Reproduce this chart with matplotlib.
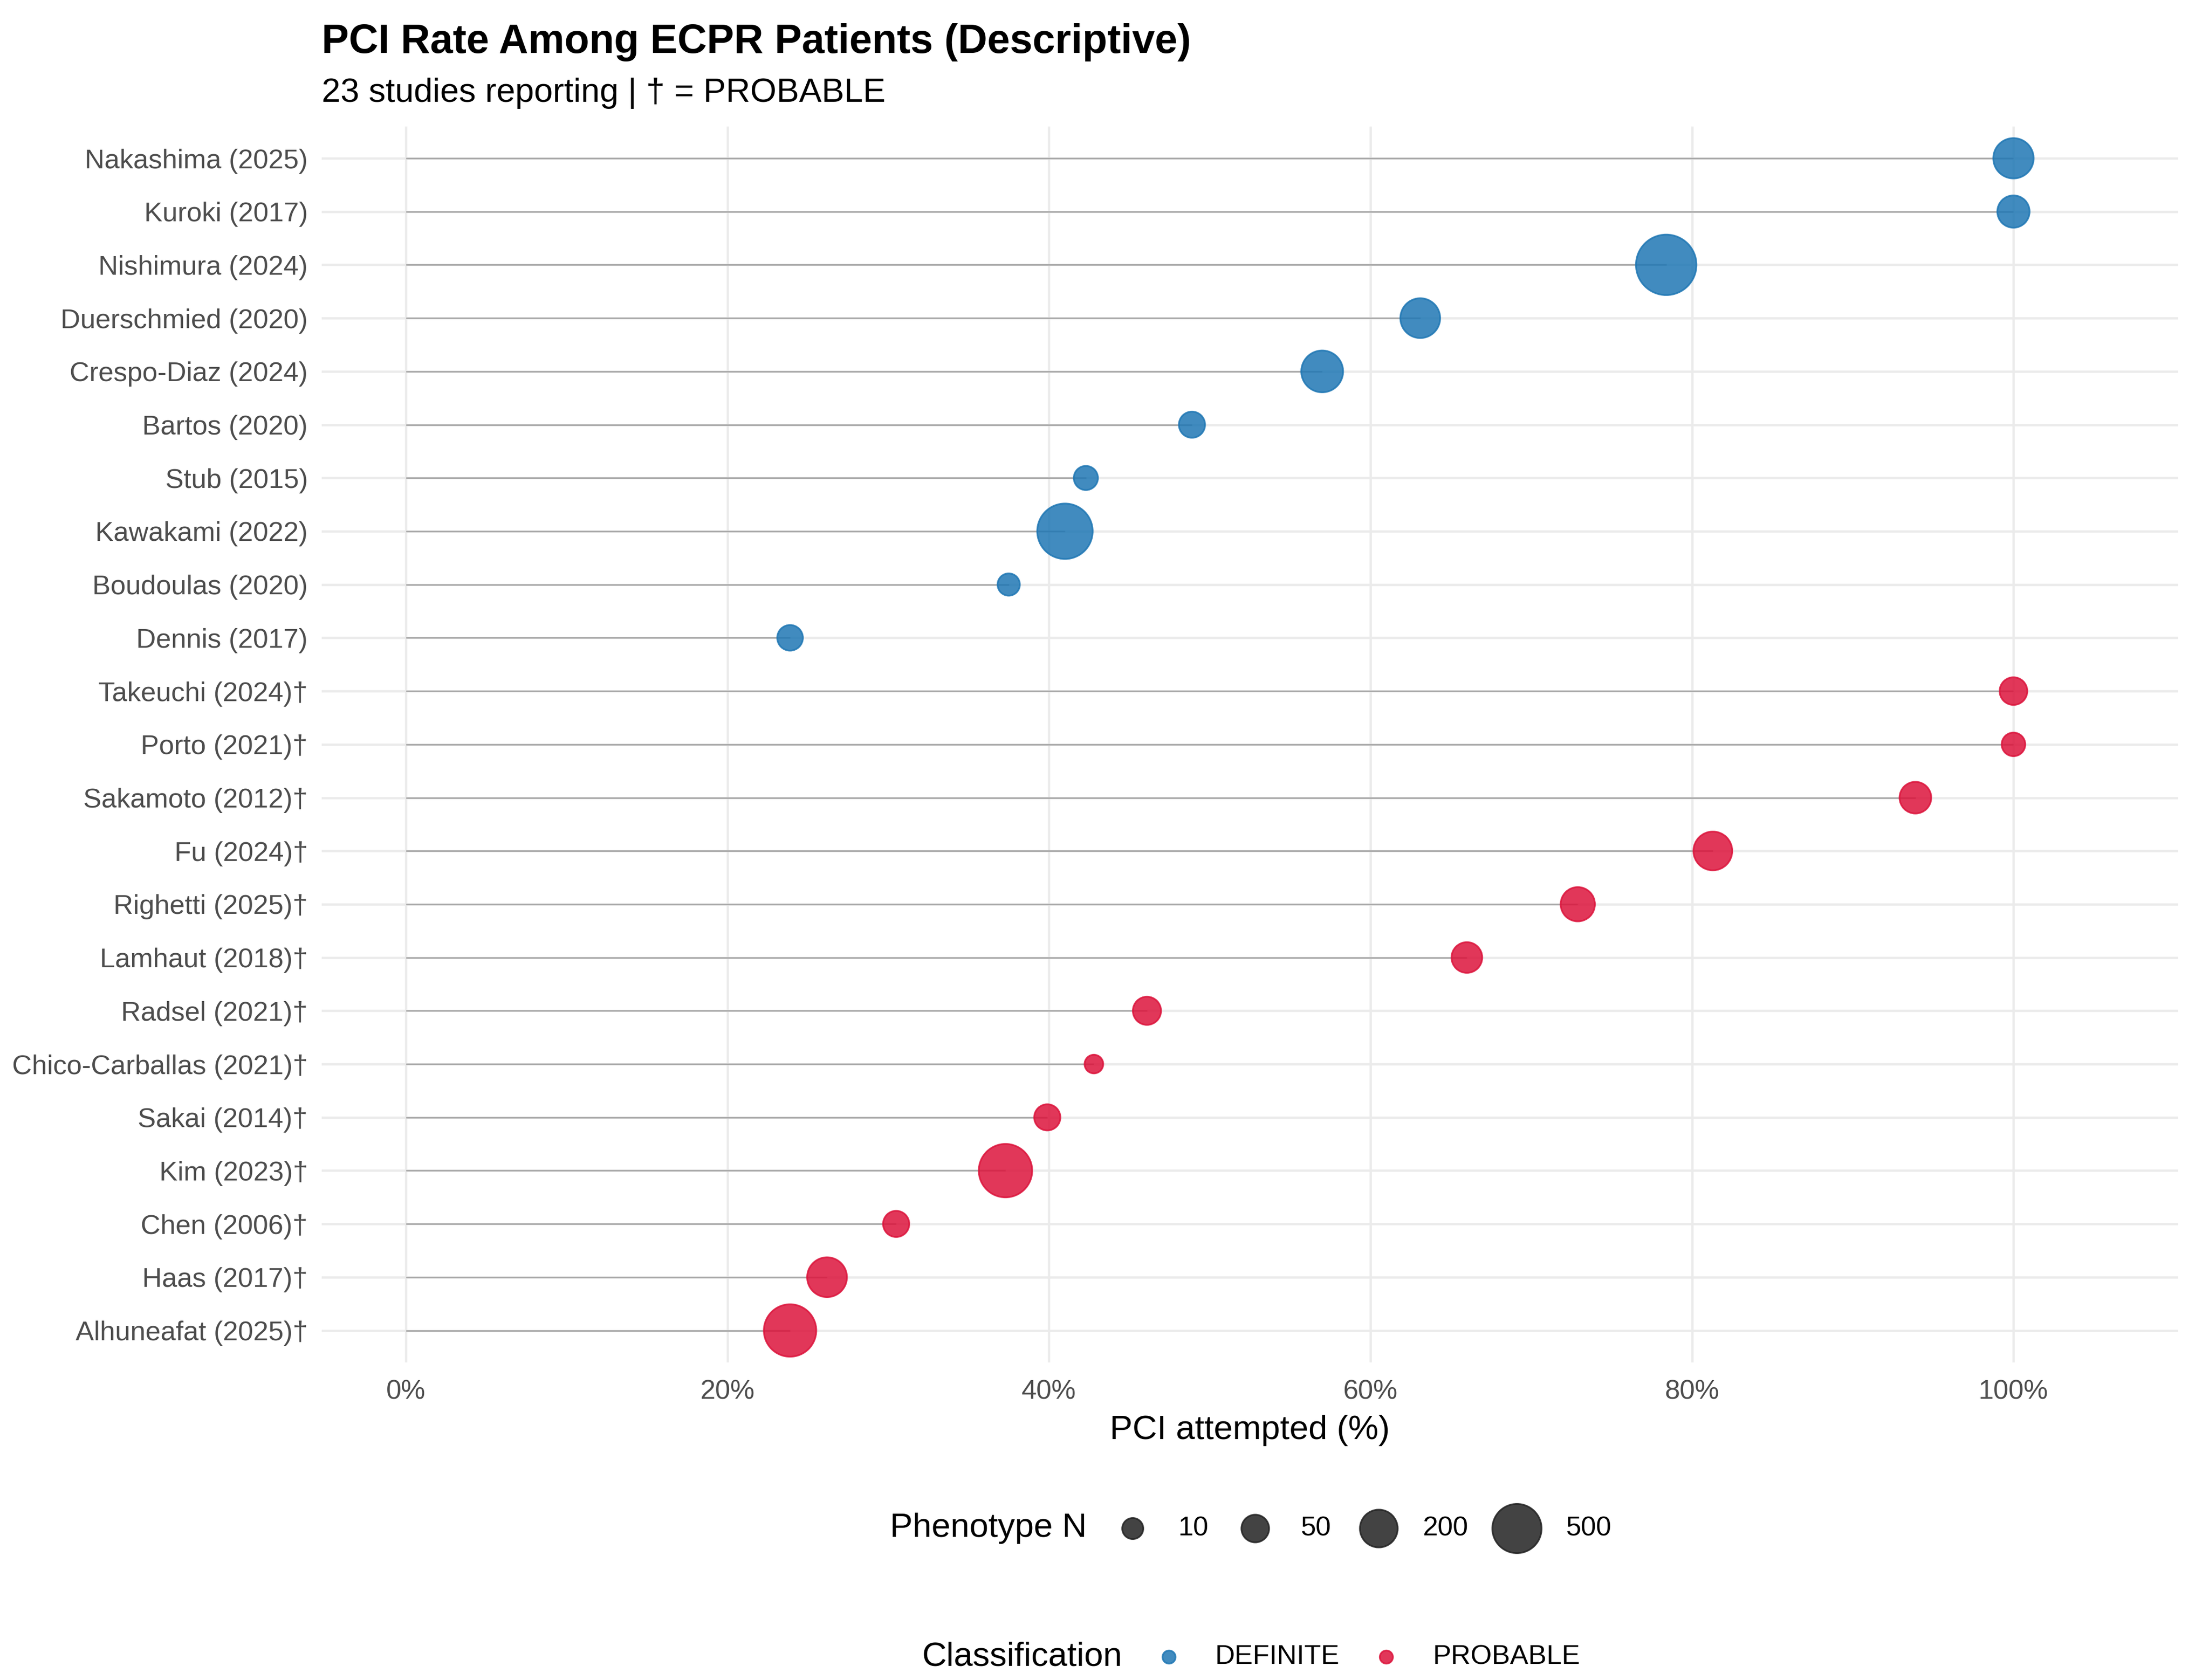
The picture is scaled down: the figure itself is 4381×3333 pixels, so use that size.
import numpy as np
import matplotlib
matplotlib.use("Agg")
import matplotlib.pyplot as plt

plt.rcParams['font.family'] = ['Liberation Sans', 'DejaVu Sans']

# ---- data (top to bottom as displayed) ----
studies = ["Nakashima (2025)", "Kuroki (2017)", "Nishimura (2024)", "Duerschmied (2020)",
           "Crespo-Diaz (2024)", "Bartos (2020)", "Stub (2015)", "Kawakami (2022)",
           "Boudoulas (2020)", "Dennis (2017)", "Takeuchi (2024)†", "Porto (2021)†",
           "Sakamoto (2012)†", "Fu (2024)†", "Righetti (2025)†", "Lamhaut (2018)†",
           "Radsel (2021)†", "Chico-Carballas (2021)†", "Sakai (2014)†", "Kim (2023)†",
           "Chen (2006)†", "Haas (2017)†", "Alhuneafat (2025)†"]
pci_pct = [100.0, 100.0, 78.4, 63.1, 57.0, 48.9, 42.3, 41.0, 37.5, 23.9,
           100.0, 100.0, 93.9, 81.3, 72.9, 66.0, 46.1, 42.8, 39.9, 37.3,
           30.5, 26.2, 23.9]
pheno_n = [255, 105, 930, 243, 290, 37, 23, 721, 14, 33,
           50, 20, 97, 221, 136, 84, 55, 7, 37, 645, 37, 243, 608]
classification = ["DEFINITE"] * 10 + ["PROBABLE"] * 13

legend_sizes = [10, 50, 200, 500]
class_levels = ["DEFINITE", "PROBABLE"]
class_colors = {"DEFINITE": "#1F77B4", "PROBABLE": "#DC143C"}

DPI = 300
W, H = 4381, 3333
fig = plt.figure(figsize=(W / DPI, H / DPI), dpi=DPI)

# size mapping (ggplot-like area scale), diameters in pixels -> points
n_min, n_max = min(pheno_n), max(pheno_n)
def diam_px(n):
    frac = np.clip((np.asarray(n, float) - n_min) / (n_max - n_min), 0, 1)
    return 37 + 83 * np.sqrt(frac)
def size_pts2(n):
    return (diam_px(n) * 72.0 / DPI) ** 2

ax = fig.add_axes([637.5 / W, 1 - 2703 / H, (4320 - 637.5) / W, (2703 - 250.6) / H])

ypos = np.arange(len(studies))[::-1]
ax.hlines(ypos, 0, pci_pct, color="#AAAAAA", linewidth=0.75, zorder=2)
cols = [class_colors[c] for c in classification]
ax.scatter(pci_pct, ypos, s=size_pts2(pheno_n), c=cols, alpha=0.85,
           edgecolors=cols, linewidths=0.8, zorder=3)

ax.set_xlim(-5.25, 110.25)
ax.set_ylim(-0.6, len(studies) - 1 + 0.6)
ax.set_yticks(ypos)
ax.set_yticklabels(studies)
ax.set_xticks([0, 20, 40, 60, 80, 100])
ax.set_xticklabels([f"{v}%" for v in [0, 20, 40, 60, 80, 100]])
ax.tick_params(axis='both', length=0, labelsize=13.0, labelcolor="#4D4D4D")
ax.tick_params(axis='y', pad=6.5)
ax.tick_params(axis='x', pad=8)
ax.grid(True, color="#EBEBEB", linewidth=1.1, zorder=0)
ax.set_axisbelow(True)
for sp in ax.spines.values():
    sp.set_visible(False)
ax.set_xlabel("PCI attempted (%)", fontsize=16.2, color="black", labelpad=5)

# titles
fig.text(637.5 / W, 1 - 105 / H, "PCI Rate Among ECPR Patients (Descriptive)",
         fontsize=19.4, fontweight="bold", ha="left", va="baseline")
fig.text(637.5 / W, 1 - 202 / H, "23 studies reporting | † = PROBABLE",
         fontsize=16.1, ha="left", va="baseline")

# legends (manual, ggplot-style horizontal)
lax = fig.add_axes([0, 0, 1, 1])
lax.set_xlim(0, 1)
lax.set_ylim(0, 1)
lax.axis("off")

y1 = 0.0902
lax.text(0.4029, y1, "Phenotype N", fontsize=16.2, ha="left", va="center")
key_x = [0.5126, 0.5681, 0.6240, 0.6866]
lab_x = [0.5334, 0.5889, 0.6440, 0.7090]
for n, kx, lx in zip(legend_sizes, key_x, lab_x):
    lax.scatter([kx], [y1], s=size_pts2(n), color="#222222", alpha=0.85,
                edgecolors="#222222", linewidths=0.8)
    lax.text(lx, y1, str(n), fontsize=13.0, ha="left", va="center")

y2 = 0.0138
lax.text(0.4174, y2, "Classification", fontsize=16.2, ha="left", va="center")
ckey_x = [0.5291, 0.6275]
clab_x = [0.5501, 0.6487]
for lvl, kx, lx in zip(class_levels, ckey_x, clab_x):
    lax.scatter([kx], [y2], s=(26 * 72.0 / DPI) ** 2, color=class_colors[lvl],
                alpha=0.85, edgecolors=class_colors[lvl], linewidths=0.8)
    lax.text(lx, y2, lvl, fontsize=13.0, ha="left", va="center")

fig.savefig("out.png", dpi=DPI, facecolor="white")
